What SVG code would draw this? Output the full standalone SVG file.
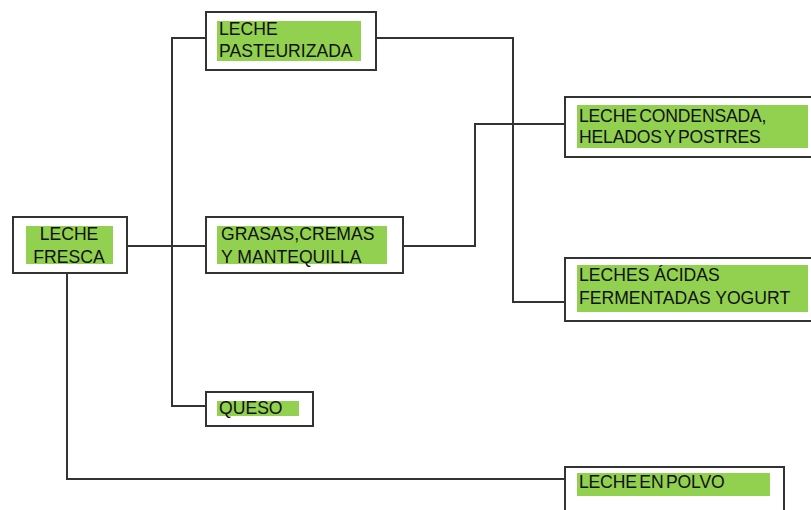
<svg xmlns="http://www.w3.org/2000/svg" width="811" height="510" viewBox="0 0 811 510">
<style>
.box{fill:#fff;stroke:#333;stroke-width:2}
.hl{fill:#92D050}
.t{font-family:"Liberation Sans",Arial,sans-serif;font-size:17.6px;fill:#111}
.c{font-family:"Liberation Sans",Arial,sans-serif;font-size:17.6px;fill:#111;letter-spacing:-0.2px;word-spacing:-2px}
.ln{fill:none;stroke:#333;stroke-width:2}
</style>
<rect width="811" height="510" fill="#fff"/>
<g id="connectors">
<path class="ln" d="M127 246H206"/>
<path class="ln" d="M206 38H172V406H206"/>
<path class="ln" d="M67 273V479H565"/>
<path class="ln" d="M376 38H513V302H565"/>
<path class="ln" d="M403 246H475V124H565"/>
</g>
<g id="leche-fresca">
<rect class="box" x="13" y="217" width="114" height="56"/>
<rect class="hl" x="26" y="226" width="87" height="38"/>
<text class="t" x="69" y="240" text-anchor="middle">LECHE</text>
<text class="t" x="69" y="263" text-anchor="middle">FRESCA</text>
</g>
<g id="leche-pasteurizada">
<rect class="box" x="206" y="12" width="170" height="58"/>
<rect class="hl" x="217" y="21" width="144" height="40"/>
<text class="t" x="219" y="35">LECHE</text>
<text class="t" x="219" y="57">PASTEURIZADA</text>
</g>
<g id="grasas">
<rect class="box" x="206" y="217" width="197" height="56"/>
<rect class="hl" x="217" y="226" width="170" height="38"/>
<text class="t" x="221" y="240">GRASAS,CREMAS</text>
<text class="t" x="221" y="263">Y MANTEQUILLA</text>
</g>
<g id="queso">
<rect class="box" x="206" y="392" width="107" height="34"/>
<rect class="hl" x="217" y="401" width="82" height="15"/>
<text class="t" x="219" y="414">QUESO</text>
</g>
<g id="leche-condensada">
<rect class="box" x="565" y="97" width="260" height="60"/>
<rect class="hl" x="577" y="105" width="231" height="43"/>
<text class="c" x="579" y="122">LECHE CONDENSADA,</text>
<text class="c" x="579" y="143">HELADOS Y POSTRES</text>
</g>
<g id="leches-acidas">
<rect class="box" x="565" y="258" width="260" height="63"/>
<rect class="hl" x="577" y="265" width="231" height="47"/>
<text class="t" x="579" y="281">LECHES  ÁCIDAS</text>
<text class="t" x="579" y="304">FERMENTADAS YOGURT</text>
</g>
<g id="leche-en-polvo">
<rect class="box" x="565" y="467" width="219" height="60"/>
<rect class="hl" x="577" y="473" width="193" height="23"/>
<text class="c" x="579" y="488">LECHE EN POLVO</text>
</g>
</svg>
